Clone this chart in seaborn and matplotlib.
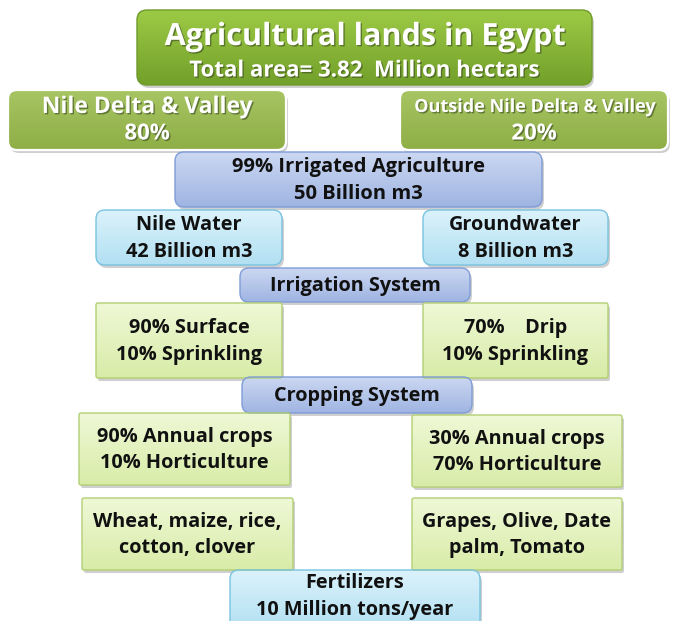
import numpy as np
import matplotlib
matplotlib.use("Agg")
import matplotlib.pyplot as plt
import matplotlib.patheffects as pe
from matplotlib.patches import FancyBboxPatch
import seaborn as sns

# box texts (top to bottom, left to right)
labels = [
    "Nile Delta & Valley\n80%",
    "Outside Nile Delta & Valley\n20%",
    "99% Irrigated Agriculture\n50 Billion m3",
    "Nile Water\n42 Billion m3",
    "Groundwater\n8 Billion m3",
    "Irrigation System",
    "90% Surface\n10% Sprinkling",
    "70%    Drip\n10% Sprinkling",
    "Cropping System",
    "90% Annual crops\n10% Horticulture",
    "30% Annual crops\n70% Horticulture",
    "Wheat, maize, rice,\ncotton, clover",
    "Grapes, Olive, Date\npalm, Tomato",
    "Fertilizers\n10 Million tons/year",
]
kinds = ["olive", "olive", "blue", "cyan", "cyan", "blue", "lime", "lime",
         "blue", "lime", "lime", "lime", "lime", "cyan"]
title_main = "Agricultural lands in Egypt"
title_sub = "Total area= 3.82  Million hectars"

# layout in pixels: x0, y0, x1, y1
boxes = [
    (8, 90, 286, 150), (400, 90, 668, 150),
    (175, 152, 542, 207),
    (96, 210, 282, 265), (423, 210, 608, 265),
    (240, 268, 470, 302),
    (96, 303, 282, 378), (423, 303, 608, 378),
    (242, 377, 472, 413),
    (79, 413, 290, 485), (412, 415, 622, 487),
    (82, 498, 293, 570), (412, 498, 622, 570),
    (230, 570, 480, 630),
]
title_box = (137, 10, 592, 85)

styles = {
    "title": dict(top="#9dca45", bot="#72a02a", edge="#6e9a2c", text="white"),
    "olive": dict(top="#a7c563", bot="#8eae46", edge="#ffffff", text="white"),
    "blue": dict(top="#ccd8f2", bot="#9fb4e2", edge="#7e9cd6", text="#111111"),
    "cyan": dict(top="#dbf2fb", bot="#b2e0f2", edge="#78c3e0", text="#111111"),
    "lime": dict(top="#eff8d6", bot="#d8eca8", edge="#b2cf74", text="#111111"),
}
body_size = 14.3

sns.set_style("white")
plt.rcParams["font.family"] = ["Open Sans", "DejaVu Sans"]

fig = plt.figure(figsize=(6.73, 6.21), dpi=100)
ax = fig.add_axes([0, 0, 1, 1])
ax.set_xlim(0, 673)
ax.set_ylim(621, 0)
ax.axis("off")

grad = np.linspace(0, 1, 64).reshape(-1, 1)


def draw_box(b, st, rad, lw):
    x0, y0, x1, y1 = b
    w, h = x1 - x0, y1 - y0
    shadow = FancyBboxPatch((x0 + 2, y0 + 3), w, h,
                            boxstyle=f"round,pad=0,rounding_size={rad}",
                            fc="#00000030", ec="none", zorder=1)
    ax.add_patch(shadow)
    p = FancyBboxPatch((x0, y0), w, h, boxstyle=f"round,pad=0,rounding_size={rad}",
                       fc="none", ec=st["edge"], lw=lw, zorder=3)
    ax.add_patch(p)
    cmap = matplotlib.colors.LinearSegmentedColormap.from_list("g", [st["top"], st["bot"]])
    im = ax.imshow(grad, cmap=cmap, extent=(x0, x1, y1, y0), aspect="auto",
                   zorder=2, interpolation="bilinear")
    im.set_clip_path(p)


white_fx = [pe.withSimplePatchShadow(offset=(1, -1), shadow_rgbFace="#3a4a20", alpha=0.6)]

# title box
st = styles["title"]
draw_box(title_box, st, 10, 1.0)
cx = (title_box[0] + title_box[2]) / 2
ax.text(cx, 37, title_main, ha="center", va="center", fontsize=22, fontweight="bold",
        color="white", path_effects=white_fx, zorder=5)
ax.text(cx, 71, title_sub, ha="center", va="center", fontsize=16, fontweight="bold",
        color="white", path_effects=white_fx, zorder=5)

for lab, kind, b in zip(labels, kinds, boxes):
    st = styles[kind]
    rad = 9 if kind in ("blue", "cyan", "olive") else 2
    draw_box(b, st, rad, 1.6 if kind == "olive" else 1.0)
    cx = (b[0] + b[2]) / 2
    cy = (b[1] + min(b[3], 621)) / 2
    if kind == "olive":
        first, second = lab.split("\n")
        ax.text(cx, cy - 13, first, ha="center", va="center",
                fontsize=13 if first.startswith("Outside") else 16.5, fontweight="bold",
                color=st["text"], path_effects=white_fx, zorder=5)
        ax.text(cx, cy + 14, second, ha="center", va="center", fontsize=16,
                fontweight="bold", color=st["text"], path_effects=white_fx, zorder=5)
        continue
    size = 14.5 if lab.startswith("99%") else body_size
    ax.text(cx, cy + 1, lab, ha="center", va="center", fontsize=size, fontweight="bold",
            color=st["text"], linespacing=1.45, zorder=5)

fig.savefig("out.png", dpi=100)
